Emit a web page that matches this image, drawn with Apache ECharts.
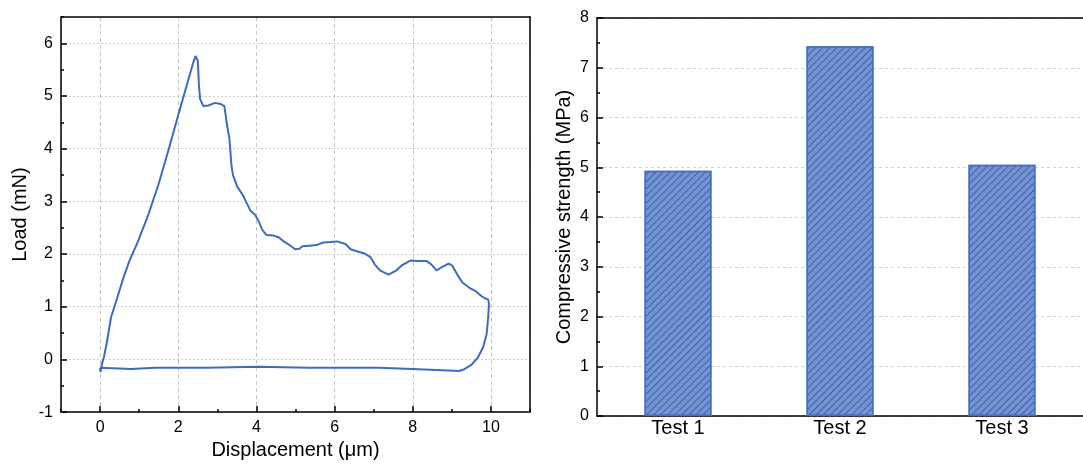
<!DOCTYPE html>
<html>
<head>
<meta charset="utf-8">
<script src="https://cdn.jsdelivr.net/npm/echarts@6/dist/echarts.min.js"></script>
<style>
html,body{margin:0;padding:0;background:#fff;}
#chart{width:1083px;height:465px;}
</style>
</head>
<body>
<div id="chart"></div>
<script>
// Left panel: load–displacement curve
const displacement = [0, 0.01, 0.05, 0.10, 0.18, 0.28, 0.44, 0.57, 0.75, 0.97, 1.23, 1.49, 1.76, 2.02, 2.24, 2.37, 2.44, 2.50, 2.53, 2.56, 2.64, 2.77, 2.94, 3.08, 3.18, 3.25, 3.31, 3.36, 3.40, 3.51, 3.65, 3.73, 3.85, 3.97, 4.06, 4.15, 4.26, 4.44, 4.57, 4.70, 4.83, 4.99, 5.10, 5.18, 5.36, 5.54, 5.71, 5.89, 6.06, 6.28, 6.41, 6.59, 6.77, 6.92, 7.03, 7.16, 7.38, 7.56, 7.73, 7.95, 8.13, 8.35, 8.48, 8.61, 8.74, 8.92, 9.01, 9.14, 9.27, 9.45, 9.62, 9.75, 9.84, 9.93, 9.95, 9.93, 9.89, 9.80, 9.67, 9.49, 9.31, 9.18, 8.60, 8.00, 7.12, 6.24, 5.36, 4.04, 2.72, 1.41, 0.79, 0];
const load = [-0.16, -0.24, -0.08, 0.05, 0.35, 0.80, 1.17, 1.49, 1.87, 2.24, 2.74, 3.31, 4.00, 4.69, 5.26, 5.60, 5.76, 5.67, 5.19, 4.94, 4.81, 4.82, 4.87, 4.85, 4.81, 4.44, 4.19, 3.69, 3.50, 3.28, 3.12, 3.00, 2.82, 2.74, 2.62, 2.46, 2.36, 2.35, 2.32, 2.24, 2.18, 2.09, 2.10, 2.15, 2.16, 2.17, 2.22, 2.23, 2.24, 2.19, 2.09, 2.05, 2.01, 1.94, 1.80, 1.69, 1.61, 1.68, 1.79, 1.88, 1.87, 1.87, 1.80, 1.69, 1.75, 1.82, 1.78, 1.61, 1.46, 1.36, 1.29, 1.21, 1.16, 1.14, 1.05, 0.80, 0.48, 0.23, 0.04, -0.11, -0.19, -0.22, -0.20, -0.18, -0.16, -0.16, -0.16, -0.14, -0.16, -0.16, -0.18, -0.16];

// Right panel: compressive strength
const tests = ['Test 1', 'Test 2', 'Test 3'];
const strength = [4.93, 7.43, 5.05];

const curve = displacement.map((d, i) => [d, load[i]]);

const FONT = 'Liberation Sans, Arial, sans-serif';
const axisLineStyle = { color: '#000', width: 1.5 };
const labelStyle = { color: '#000', fontSize: 16, fontFamily: FONT };
const nameStyle = { color: '#000', fontSize: 20, fontFamily: FONT };
const borderAxis = {
  axisLine: { show: true, onZero: false, lineStyle: axisLineStyle },
  axisTick: { show: false }, axisLabel: { show: false }, splitLine: { show: false }
};

const chart = echarts.init(document.getElementById('chart'), null, { renderer: 'canvas' });
chart.setOption({
  backgroundColor: '#fff',
  animation: false,
  grid: [
    { left: 61, top: 17, width: 469, height: 398 },
    { left: 597, top: 18, width: 493, height: 398 }
  ],
  xAxis: [
    {
      gridIndex: 0, type: 'value', min: -1, max: 11, splitNumber: 6, position: 'bottom',
      axisLine: { onZero: false, lineStyle: axisLineStyle },
      axisTick: { inside: true, length: 6, lineStyle: axisLineStyle },
      axisLabel: { ...labelStyle, margin: 7, showMinLabel: false, showMaxLabel: false },
      splitLine: { show: true, lineStyle: { color: '#c4c4c4', width: 1, type: [4, 3] } },
      name: 'Displacement (μm)', nameLocation: 'middle', nameGap: 27, nameTextStyle: nameStyle
    },
    {
      gridIndex: 0, type: 'value', min: -1, max: 11, interval: 1, position: 'bottom',
      axisLine: { show: false, onZero: false },
      axisTick: { inside: true, length: 3, lineStyle: axisLineStyle },
      axisLabel: { show: false }, splitLine: { show: false }
    },
    {
      gridIndex: 1, type: 'category', data: tests, position: 'bottom',
      axisLine: { onZero: false, lineStyle: axisLineStyle },
      axisTick: { show: false },
      axisLabel: { color: '#000', fontSize: 20, fontFamily: FONT, margin: 2 },
      splitLine: { show: false }
    },
    { gridIndex: 0, type: 'value', min: -1, max: 11, position: 'top', ...borderAxis },
    { gridIndex: 1, type: 'value', min: 0, max: 1, position: 'top', ...borderAxis }
  ],
  yAxis: [
    {
      gridIndex: 0, type: 'value', min: -1, max: 6.5, interval: 1, position: 'left',
      axisLine: { onZero: false, lineStyle: axisLineStyle },
      axisTick: { inside: true, length: 6, lineStyle: axisLineStyle },
      axisLabel: { ...labelStyle, margin: 8, showMaxLabel: false },
      splitLine: { show: true, lineStyle: { color: '#cfcfcf', width: 1, type: [2, 2] } },
      name: 'Load (mN)', nameLocation: 'middle', nameGap: 31, nameTextStyle: nameStyle
    },
    {
      gridIndex: 0, type: 'value', min: -1, max: 6.5, interval: 0.5, position: 'left',
      axisLine: { show: false, onZero: false },
      axisTick: { inside: true, length: 3, lineStyle: axisLineStyle },
      axisLabel: { show: false }, splitLine: { show: false }
    },
    {
      gridIndex: 1, type: 'value', min: 0, max: 8, interval: 1, position: 'left',
      axisLine: { onZero: false, lineStyle: axisLineStyle },
      axisTick: { inside: true, length: 6, lineStyle: axisLineStyle },
      minorTick: { show: true, splitNumber: 2, length: 3, lineStyle: axisLineStyle },
      axisLabel: { ...labelStyle, margin: 8 },
      splitLine: { show: true, lineStyle: { color: '#cfcfcf', width: 1, type: [3, 3] } },
      name: 'Compressive strength (MPa)', nameLocation: 'middle', nameGap: 23, nameTextStyle: nameStyle
    },
    { gridIndex: 0, type: 'value', min: -1, max: 6.5, position: 'right', ...borderAxis }
  ],
  series: [
    {
      type: 'line', xAxisIndex: 0, yAxisIndex: 0, data: curve,
      showSymbol: false, symbol: 'none',
      lineStyle: { color: '#3d6cbf', width: 2 }
    },
    {
      type: 'bar', xAxisIndex: 2, yAxisIndex: 2, data: strength, barWidth: 67,
      itemStyle: {
        color: '#7393d3', borderColor: '#4470c2', borderWidth: 1.5,
        decal: { symbol: 'rect', symbolSize: 1, dashArrayX: [1, 0], dashArrayY: [1, 4], rotation: -Math.PI / 4, color: 'rgba(35,60,140,0.6)' }
      }
    }
  ]
});
</script>
</body>
</html>
